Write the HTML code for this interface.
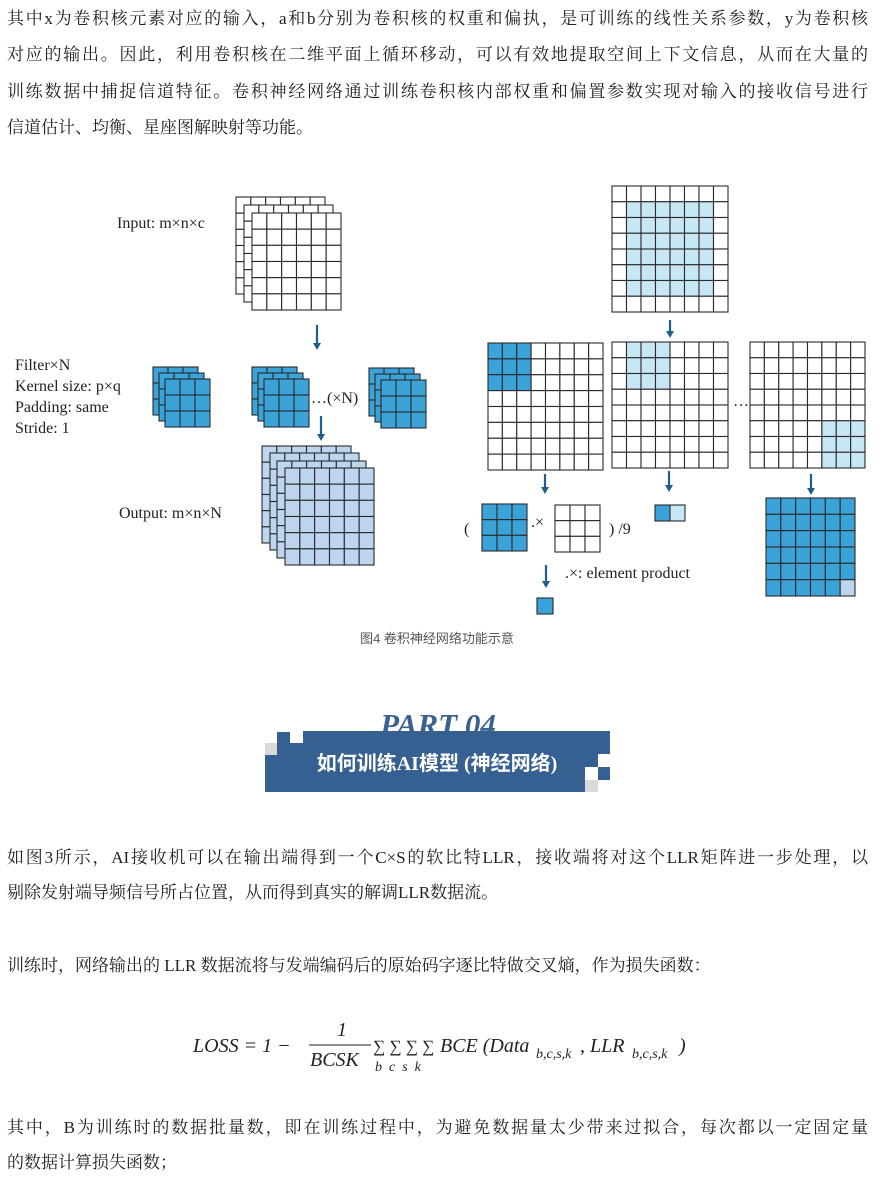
<!DOCTYPE html>
<html><head><meta charset="utf-8">
<style>
html,body{margin:0;padding:0;background:#fff;}
body{width:882px;height:1185px;position:relative;overflow:hidden;font-family:"Liberation Serif","Noto Serif CJK SC","Noto Sans CJK SC",serif;color:#222;}
.l{position:absolute;left:7px;width:861px;font-size:17px;line-height:20px;white-space:nowrap;}
.j{text-align:justify;text-align-last:justify;}
svg{position:absolute;left:0;top:0;}
</style></head><body>
<div class="l j" style="top:9px">其中x为卷积核元素对应的输入，a和b分别为卷积核的权重和偏执，是可训练的线性关系参数，y为卷积核</div>
<div class="l j" style="top:45px">对应的输出。因此，利用卷积核在二维平面上循环移动，可以有效地提取空间上下文信息，从而在大量的</div>
<div class="l j" style="top:82px">训练数据中捕捉信道特征。卷积神经网络通过训练卷积核内部权重和偏置参数实现对输入的接收信号进行</div>
<div class="l" style="top:118px">信道估计、均衡、星座图解映射等功能。</div>

<svg id="d" width="882" height="1185" xmlns="http://www.w3.org/2000/svg" font-family="Liberation Serif, serif">
<g id="grids"></g>
<g fill="#222" font-size="16">
<text x="117" y="228">Input: m×n×c</text>
<text x="15" y="370">Filter×N</text>
<text x="15" y="391">Kernel size: p×q</text>
<text x="15" y="412">Padding: same</text>
<text x="15" y="433">Stride: 1</text>
<text x="311" y="403">…(×N)</text>
<text x="119" y="518">Output: m×n×N</text>
<text x="733" y="406">…</text>
<text x="464" y="534">(</text>
<text x="531" y="527">.×</text>
<text x="609" y="534">) /9</text>
<text x="565" y="578">.×: element product</text>
</g>
<g stroke="#1f5f8b" stroke-width="2.2" fill="#1f5f8b" id="arrows"></g>
<text x="437" y="643" text-anchor="middle" font-size="13" fill="#555" font-family="Liberation Sans, Noto Sans CJK SC, sans-serif">图4 卷积神经网络功能示意</text>

<text x="438" y="735" text-anchor="middle" font-size="31" font-weight="bold" font-style="italic" fill="#3a6191">PART 04</text>
<rect x="303" y="731" width="307" height="36" fill="#376092"/>
<rect x="265" y="755" width="320" height="37" fill="#376092"/>
<rect x="277" y="743" width="40" height="14" fill="#376092"/>
<rect x="277" y="732" width="13" height="11" fill="#376092"/>
<rect x="265" y="743" width="12" height="12" fill="#d9d9d9"/>
<rect x="598" y="767" width="12" height="13" fill="#376092"/>
<rect x="585" y="780" width="13" height="12" fill="#d9d9d9"/>
<rect x="598" y="754" width="12" height="13" fill="#fff"/>
<text x="437" y="770" text-anchor="middle" font-size="20" font-weight="bold" fill="#fff" font-family="Liberation Serif, Noto Sans CJK SC, sans-serif">如何训练AI模型 (神经网络)</text>

<g font-style="italic" font-size="20" fill="#222">
<text x="193" y="1052">LOSS = 1 −</text>
<text x="337" y="1036">1</text>
<line x1="309" y1="1045" x2="371" y2="1045" stroke="#222" stroke-width="1"/>
<text x="310" y="1066">BCSK</text>
<text x="373" y="1052" font-style="normal" font-size="17">∑ ∑ ∑ ∑</text>
<text x="375" y="1071" font-size="14">b &#160;c &#160;s &#160;k</text>
<text x="440" y="1052">BCE (Data</text>
<text x="536" y="1058" font-size="14">b,c,s,k</text>
<text x="580" y="1052">, LLR</text>
<text x="632" y="1058" font-size="14">b,c,s,k</text>
<text x="679" y="1052">)</text>
</g>
</svg>

<div class="l j" style="top:848px">如图3所示，AI接收机可以在输出端得到一个C×S的软比特LLR，接收端将对这个LLR矩阵进一步处理，以</div>
<div class="l" style="top:883px">剔除发射端导频信号所占位置，从而得到真实的解调LLR数据流。</div>
<div class="l" style="top:956px">训练时，网络输出的 LLR 数据流将与发端编码后的原始码字逐比特做交叉熵，作为损失函数：</div>
<div class="l j" style="top:1118px">其中，B为训练时的数据批量数，即在训练过程中，为避免数据量太少带来过拟合，每次都以一定固定量</div>
<div class="l" style="top:1153px">的数据计算损失函数；</div>

<script>
var NS="http://www.w3.org/2000/svg",G=document.getElementById("grids");
function r(x,y,w,h,f,s){var e=document.createElementNS(NS,"rect");e.setAttribute("x",x);e.setAttribute("y",y);e.setAttribute("width",w);e.setAttribute("height",h);e.setAttribute("fill",f);if(s){e.setAttribute("stroke",s);e.setAttribute("stroke-width","1.1");}G.appendChild(e);}
function grid(x,y,c,n,w,h,ff){var cw=w/c,ch=h/n;for(var i=0;i<n;i++)for(var j=0;j<c;j++){r(x+j*cw,y+i*ch,cw,ch,ff(i,j),"#2a2a2a");}}
var W="#fff",D="#3ba3d7",L="#c8e7f5",O="#bdd5ee";
function C(c){return function(){return c;};}
[[236,197],[244,205],[252,213]].forEach(function(p){grid(p[0],p[1],6,6,89,97,C(W));});
[[153,367],[159,373],[165,379]].forEach(function(p){grid(p[0],p[1],3,3,45,48,C(D));});
[[252,367],[258,373],[264,379]].forEach(function(p){grid(p[0],p[1],3,3,45,48,C(D));});
[[369,368],[375,374],[381,380]].forEach(function(p){grid(p[0],p[1],3,3,45,48,C(D));});
[[262,446],[270,453],[277,461],[285,468]].forEach(function(p){grid(p[0],p[1],6,6,89,97,C(O));});
grid(612,186,8,8,116,126,function(i,j){return (i>=1&&i<=6&&j>=1&&j<=6)?L:W;});
grid(488,343,8,8,115,127,function(i,j){return (i<3&&j<3)?D:W;});
grid(612,342,8,8,116,126,function(i,j){return (i<3&&j>=1&&j<=3)?L:W;});
grid(750,342,8,8,115,126,function(i,j){return (i>=5&&j>=5)?L:W;});
grid(482,504,3,3,45,47,C(D));
grid(555,505,3,3,45,47,C(W));
grid(655,505,2,1,30,16,function(i,j){return j?L:D;});
r(537,598,16,16,D,"#2a2a2a");
grid(766,498,6,6,89,98,function(i,j){return (i==5&&j==5)?O:D;});
var A=document.getElementById("arrows");
[[317,325,350],[321,416,441],[670,320,338],[545,474,494],[669,471,492],[811,474,495],[546,565,588]].forEach(function(a){
var l=document.createElementNS(NS,"line");l.setAttribute("x1",a[0]);l.setAttribute("x2",a[0]);l.setAttribute("y1",a[1]);l.setAttribute("y2",a[2]-6);A.appendChild(l);
var p=document.createElementNS(NS,"polygon");p.setAttribute("points",(a[0]-4)+","+(a[2]-7)+" "+(a[0]+4)+","+(a[2]-7)+" "+a[0]+","+a[2]);p.setAttribute("stroke","none");A.appendChild(p);});
</script>
</body></html>
